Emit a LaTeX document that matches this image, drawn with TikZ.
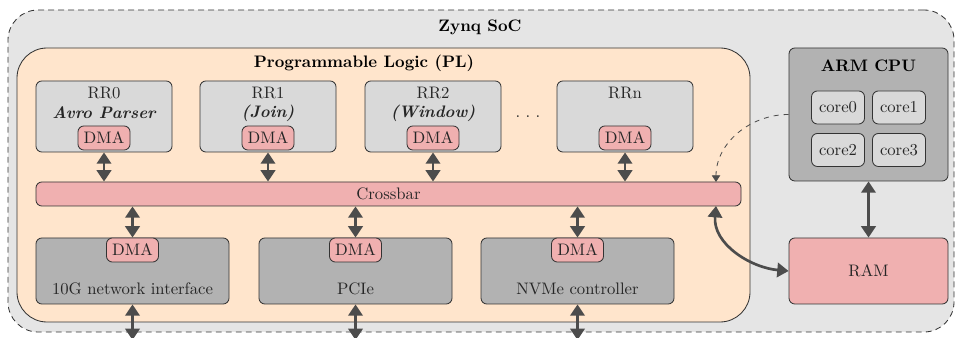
\documentclass[tikz,border=0pt]{standalone}
\usetikzlibrary{arrows.meta}
\definecolor{pinkc}{RGB}{240,176,176}
\tikzset{
 base/.style={draw=black!80, line width=0.5pt, inner sep=0pt, rounded corners=3.5pt},
 rrbox/.style={base, fill=gray!30, minimum width=81.6pt, minimum height=42.6pt},
 dmabox/.style={base, fill=pinkc, minimum width=31.2pt, minimum height=14.4pt, text=black!85},
 iobox/.style={base, fill=gray!60, minimum width=115.8pt, minimum height=39.6pt},
 corebox/.style={base, fill=gray!30, minimum width=31.8pt, minimum height=19.8pt, text=black!85},
 lbl/.style={inner sep=0pt, text=black!85},
 ttl/.style={inner sep=0pt, font=\bfseries},
 dbl/.style={draw=black!70, line width=1.6pt, {Triangle[width=8.6pt,length=6.8pt]}-{Triangle[width=8.6pt,length=6.8pt]}},
 dsh/.style={draw=black!70, line width=0.5pt, dash pattern=on 3pt off 3pt, -{Triangle[width=5pt,length=4pt]}},
}
\begin{document}
\begin{tikzpicture}[x=0.6pt,y=-0.6pt]
\useasboundingbox (0,0) rectangle (957,338);
% outer SoC
\node[draw=black!80, line width=0.5pt, dash pattern=on 3.5pt off 2.5pt, fill=gray!20, rounded corners=18pt, minimum width=567.6pt, minimum height=193.2pt, inner sep=0pt] (soc) at (481,171) {};
\node[ttl] (soct) at (480,27) {Zynq SoC};
% PL
\node[draw=black!80, line width=0.5pt, fill=orange!20, rounded corners=18pt, minimum width=439.8pt, minimum height=164.4pt, inner sep=0pt] (pl) at (383.5,185) {};
\node[ttl] (plt) at (364,63) {Programmable Logic (PL)};
% RR boxes
\node[rrbox] (rr0) at (104,116.5) {};
\node[rrbox] (rr1) at (268,116.5) {};
\node[rrbox] (rr2) at (433,116.5) {};
\node[rrbox] (rrn) at (625,116.5) {};
\node[lbl] (rr0a) at (104,93) {RR0};
\node[lbl] (rr0b) at (104,113) {\bfseries\itshape Avro Parser};
\node[lbl] (rr1a) at (268,93) {RR1};
\node[lbl] (rr1b) at (268,113) {\bfseries\itshape (Join)};
\node[lbl] (rr2a) at (433,93) {RR2};
\node[lbl] (rr2b) at (433,113) {\bfseries\itshape (Window)};
\node[lbl] (rrna) at (625,93) {RRn};
\node[lbl, anchor=base] (dots) at (528,118) {.\hspace{3.2pt}.\hspace{3.2pt}.};
\node[dmabox] (d0) at (104,138) {DMA};
\node[dmabox] (d1) at (268,138) {DMA};
\node[dmabox] (d2) at (433,138) {DMA};
\node[dmabox] (dn) at (625,138) {DMA};
% crossbar
\node[base, fill=pinkc, minimum width=423pt, minimum height=14.4pt, text=black!85] (xbar) at (388.5,194) {Crossbar};
% IO boxes
\node[iobox] (io0) at (132.5,271) {};
\node[iobox] (io1) at (355.5,271) {};
\node[iobox] (io2) at (577.5,271) {};
\node[dmabox] (e0) at (132.5,250) {DMA};
\node[dmabox] (e1) at (355.5,250) {DMA};
\node[dmabox] (e2) at (577.5,250) {DMA};
\node[lbl] (io0t) at (132.5,289) {10G network interface};
\node[lbl] (io1t) at (355.5,289) {PCIe};
\node[lbl] (io2t) at (577.5,289) {NVMe controller};
% ARM CPU
\node[base, fill=gray!60, minimum width=95.4pt, minimum height=79.8pt] (arm) at (868.5,114.5) {};
\node[ttl] (armt) at (868.5,66) {ARM CPU};
\node[corebox] (c0) at (838,107.5) {core0};
\node[corebox] (c1) at (899,107.5) {core1};
\node[corebox] (c2) at (838,150) {core2};
\node[corebox] (c3) at (899,150) {core3};
% RAM
\node[base, fill=pinkc, minimum width=95.4pt, minimum height=39.6pt, text=black!85] (ram) at (868.5,271) {RAM};
% coordinates
\coordinate (xtop) at (716,182);
\coordinate (xbot) at (716,206);
\coordinate (x0) at (132.5,340);
\coordinate (x1) at (355.5,340);
\coordinate (x2) at (577.5,340);
% arrows
\foreach \n in {rr0,rr1,rr2,rrn} \draw[dbl] (\n.south) -- (\n.south |- xbar.north);
\foreach \n in {io0,io1,io2} \draw[dbl] (\n.north |- xbar.south) -- (\n.north);
\draw[dbl] (io0.south) -- (x0);
\draw[dbl] (io1.south) -- (x1);
\draw[dbl] (io2.south) -- (x2);
\draw[dbl] (arm.south) -- (ram.north);
\draw[dbl] (xbot) to[out=-95,in=175] (ram.west);
\draw[dsh] (arm.west) to[out=180,in=90] (xtop);
\end{tikzpicture}
\end{document}
